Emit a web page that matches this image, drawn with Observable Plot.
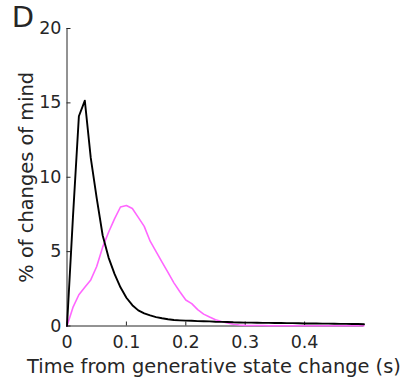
<!DOCTYPE html>
<html>
<head>
<meta charset="utf-8">
<script src="https://cdn.jsdelivr.net/npm/d3@7"></script>
<script src="https://cdn.jsdelivr.net/npm/@observablehq/plot@0.6"></script>
<style>
  html, body { margin: 0; padding: 0; background: white; }
  #chart svg { display: block; }
</style>
</head>
<body>
<div id="chart"></div>
<script>
const times = [0,0.01,0.02,0.03,0.04,0.05,0.06,0.07,0.08,0.09,0.10,0.11,0.12,0.13,0.14,0.15,0.16,0.17,0.18,0.19,0.20,0.21,0.22,0.23,0.24,0.25,0.26,0.27,0.28,0.29,0.30,0.31,0.32,0.33,0.34,0.35,0.36,0.37,0.38,0.39,0.40,0.41,0.42,0.43,0.44,0.45,0.46,0.47,0.48,0.49,0.50];
const blackVals = [0,7.3,14.1,15.15,11.3,8.6,6.1,4.6,3.5,2.6,1.9,1.4,1.05,0.85,0.71,0.6,0.52,0.45,0.4,0.38,0.36,0.35,0.33,0.32,0.31,0.29,0.28,0.27,0.25,0.24,0.23,0.23,0.22,0.21,0.21,0.2,0.2,0.19,0.19,0.18,0.17,0.17,0.17,0.16,0.16,0.15,0.14,0.14,0.13,0.13,0.12];
const magentaVals = [0,1.25,2.1,2.6,3.1,4.0,5.3,6.3,7.2,8.0,8.1,7.9,7.3,6.7,5.7,5.0,4.3,3.6,2.9,2.3,1.75,1.5,1.1,0.8,0.6,0.42,0.3,0.2,0.12,0.07,0.04,0.03,0.03,0.03,0.02,0.02,0.02,0.02,0.02,0.02,0.02,0.02,0.02,0.02,0.02,0.02,0.02,0.02,0.02,0.02,0.02];
const xTicks = [0,0.1,0.2,0.3,0.4];
const xTickLabels = ["0","0.1","0.2","0.3","0.4"];
const yTicks = [0,5,10,15,20];
const yTickLabels = ["0","5","10","15","20"];
const panelLabel = "D";
const xTitle = "Time from generative state change (s)";
const yTitle = "% of changes of mind";

const W = 407, H = 385;
const mL = 66.5, mR = 43.5, mT = 28, mB = 59.5;
const frameW = W - mL - mR, frameH = H - mT - mB;
const ink = "#262626";

const chart = Plot.plot({
  width: W, height: H,
  marginLeft: mL, marginRight: mR, marginTop: mT, marginBottom: mB,
  x: {domain: [0, 0.5], label: null},
  y: {domain: [0, 20], label: null},
  style: {fontFamily: "DejaVu Sans", fontSize: "17.5px", color: ink, background: "white"},
  marks: [
    Plot.axisY({ticks: yTicks, tickSize: 0, tickPadding: 5.5, tickFormat: d => yTickLabels[yTicks.indexOf(d)], label: null, fill: ink}),
    Plot.axisX({ticks: xTicks, tickSize: 0, tickPadding: 10, tickFormat: d => xTickLabels[xTicks.indexOf(d)], label: null, fill: ink}),
    Plot.tickY(yTicks, {y: d => d, stroke: ink, strokeWidth: 1, insetRight: frameW - 4}),
    Plot.tickX(xTicks, {x: d => d, stroke: ink, strokeWidth: 1, insetTop: frameH - 4}),
    Plot.ruleX([0], {stroke: ink, strokeWidth: 1}),
    Plot.ruleY([0], {stroke: ink, strokeWidth: 1}),
    Plot.line(times, {x: times, y: magentaVals, stroke: "#ff66ff", strokeWidth: 1.6}),
    Plot.line(times, {x: times, y: blackVals, stroke: "black", strokeWidth: 1.9}),
    Plot.text([panelLabel], {frameAnchor: "top-left", text: d => d, dx: 11.2 - mL, dy: -22, fontSize: 29, textAnchor: "start", lineAnchor: "top", fill: ink}),
    Plot.text([yTitle], {frameAnchor: "left", text: d => d, rotate: -90, dx: -40.5, fontSize: 19.4, textAnchor: "middle", lineAnchor: "middle", fill: ink}),
    Plot.text([xTitle], {frameAnchor: "bottom", text: d => d, dx: -1.6, dy: 41, fontSize: 19.4, textAnchor: "middle", lineAnchor: "middle", fill: ink})
  ]
});
document.getElementById("chart").appendChild(chart);
</script>
</body>
</html>
